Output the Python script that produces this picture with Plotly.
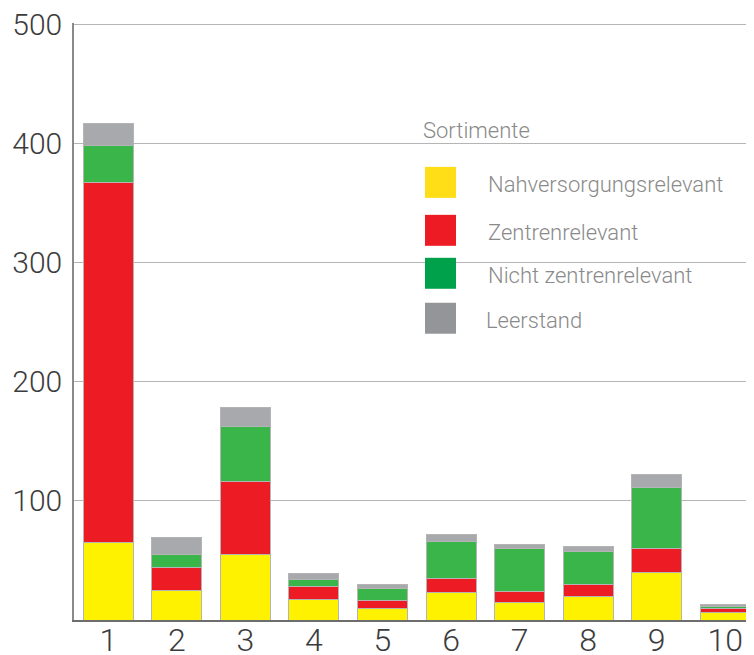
import plotly.graph_objects as go

categories = ["1", "2", "3", "4", "5", "6", "7", "8", "9", "10"]
nahversorgung = [65, 25, 55, 17, 10, 23, 15, 20, 40, 6.5]
zentren = [302, 19, 61, 11.5, 6, 12, 9, 9.5, 20, 3]
nicht_zentren = [31, 11, 46, 5.5, 10.5, 30.5, 36, 28, 51, 2]
leerstand = [19, 14, 16, 5, 3.5, 6.5, 3.7, 4, 11, 1.5]

series_names = ["Nahversorgungsrelevant", "Zentrenrelevant", "Nicht zentrenrelevant", "Leerstand"]
bar_colors = ["#FFF200", "#ED1C24", "#39B54A", "#A7A9AC"]
legend_colors = ["#FFDD17", "#ED1C24", "#00A14B", "#939598"]
legend_title = "Sortimente"
y_ticks = [0, 100, 200, 300, 400, 500]
y_tick_text = ["", "100", "200", "300", "400", "500"]

FONT = "Roboto"

fig = go.Figure()
for name, vals, col in zip(series_names, [nahversorgung, zentren, nicht_zentren, leerstand], bar_colors):
    fig.add_trace(go.Bar(
        x=list(range(1, 11)), y=vals, name=name,
        marker=dict(color=col, line=dict(color="#B4B4B4", width=1)),
        showlegend=False,
    ))

# manual legend (positions in reference-page pixels, converted to paper coords)
def px(rx):
    return (rx - 74) / 680

def py(ry):
    return (620.5 - ry) / 597.5

sw_left, sw_right = 425, 456
sw_tops = [167, 215, 258, 303]
text_x = [486, 486, 486, 484]
for i, (name, col) in enumerate(zip(series_names, legend_colors)):
    y0 = sw_tops[i]
    fig.add_shape(type="rect", xref="paper", yref="paper",
                  x0=px(sw_left), x1=px(sw_right),
                  y0=py(y0 + 31), y1=py(y0),
                  fillcolor=col, line=dict(width=0), layer="above")
    fig.add_annotation(xref="paper", yref="paper",
                       x=px(text_x[i]), y=py(y0 + 18),
                       text=name, showarrow=False, xanchor="left", yanchor="middle",
                       font=dict(family=FONT, size=22, color="#8A8A8A", weight=300))
fig.add_annotation(xref="paper", yref="paper",
                   x=px(421), y=py(131),
                   text=legend_title, showarrow=False, xanchor="left", yanchor="middle",
                   font=dict(family=FONT, size=22, color="#8A8A8A", weight=300))

fig.update_layout(
    width=746, height=647,
    margin=dict(l=66, r=0, t=15, b=34.5, autoexpand=False),
    paper_bgcolor="white", plot_bgcolor="white",
    barmode="stack", bargap=0.27,
    font=dict(family=FONT, color="#3C3C3C"),
    showlegend=False,
)
fig.update_xaxes(
    range=[0.5, 10.42], tickmode="array", tickvals=list(range(1, 11)), ticktext=categories,
    showgrid=False, zeroline=False, showline=True, linecolor="#6D6D6D", linewidth=2,
    ticks="", automargin=False, ticklabeloverflow="allow", ticklabelstandoff=-9,
    tickfont=dict(family=FONT, size=32, color="#3C3C3C", weight=300),
)
fig.update_yaxes(
    range=[0, 501], tickmode="array", tickvals=y_ticks, ticktext=y_tick_text,
    showgrid=True, gridcolor="#B5B5B5", gridwidth=1, zeroline=False,
    showline=True, linecolor="#8A8A8A", linewidth=1.5, ticks="",
    automargin=False, ticklabeloverflow="allow", ticklabelstandoff=4,
    tickfont=dict(family=FONT, size=30, color="#3C3C3C", weight=300),
)

fig.write_html("out.html")
